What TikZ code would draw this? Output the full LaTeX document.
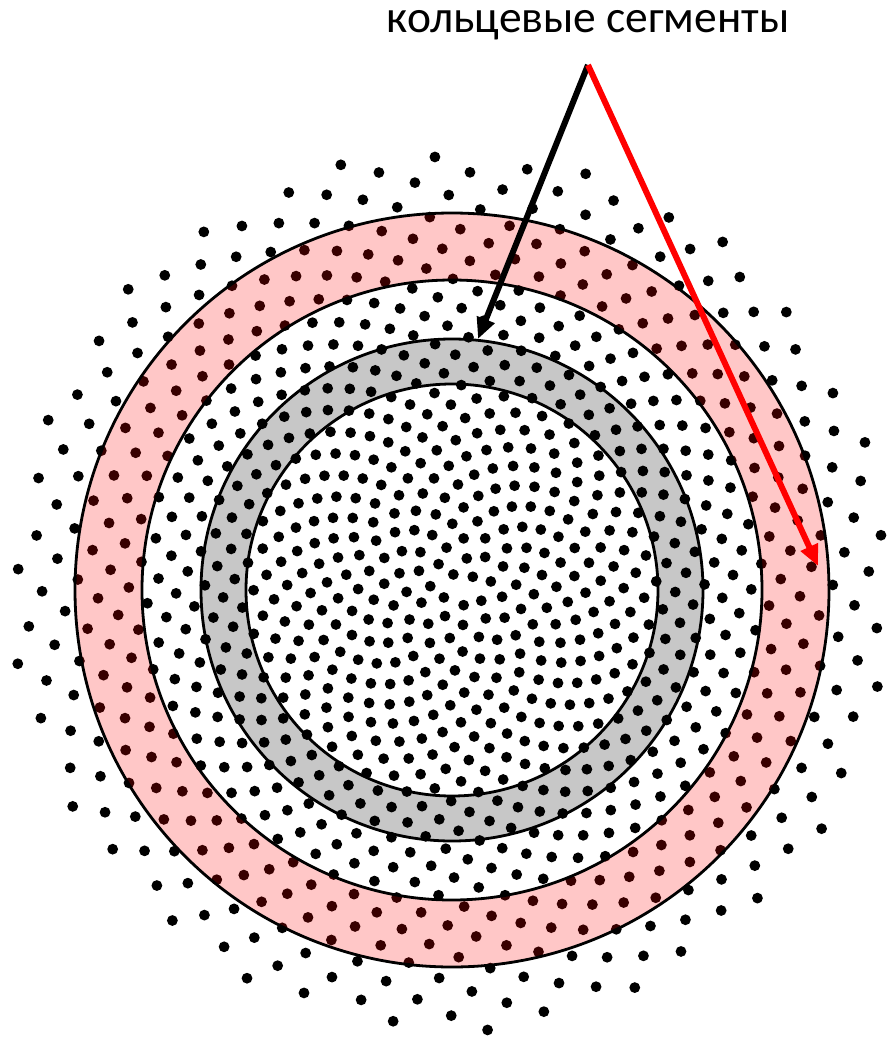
\documentclass[tikz,border=0pt]{standalone}
\usepackage{fontspec}
\newfontfamily\labelfont{Carlito}
\usetikzlibrary{arrows.meta}

\tikzset{
  seed/.style={fill=black},
  pinkring/.style={fill=red,fill opacity=0.22,even odd rule},
  grayring/.style={fill=black,fill opacity=0.22,even odd rule},
  rim/.style={draw=black,line width=2.8pt},
  ptr/.style={line width=6pt,-{Triangle[length=21pt,width=18pt]}}
}

\begin{document}
\begin{tikzpicture}[x=1pt,y=-1pt]
  \useasboundingbox (0,0) rectangle (887,1044);
  \coordinate (c) at (452,590);
  % sunflower of seeds, spacing grows outward
  \xdef\rr{0}
  \xdef\aa{0}
  \foreach \n in {1,...,1250}{
    \pgfmathsetmacro\s{2.1+1.8*(\rr/44)^3}
    \pgfmathsetmacro\rnew{sqrt(\rr*\rr+\s*\s*0.2757)}
    \pgfmathsetmacro\anew{mod(\aa+137.508,360)}
    \xdef\rr{\rnew}
    \xdef\aa{\anew}
    \ifdim\rr pt<44.2pt
      \fill[seed] (c) ++(\aa:{10*\rr}) circle (5.4);
    \fi
  }
  % ring segments
  \fill[pinkring] (c) circle (377) (c) circle (310);
  \fill[grayring] (c) circle (251) (c) circle (206);
  \draw[rim] (c) circle (377) (c) circle (310);
  \draw[rim] (c) circle (251) (c) circle (206);
  % label and pointers
  \node[font=\labelfont\fontsize{45.5}{48}\selectfont] (lbl) at (588,25) {кольцевые сегменты};
  \coordinate (apex) at (588,65);
  \coordinate (graytip) at (478,339);
  \coordinate (pinktip) at (818,566);
  \draw[ptr,black] (apex) -- (graytip);
  \draw[ptr,red] (apex) -- (pinktip);
\end{tikzpicture}
\end{document}
